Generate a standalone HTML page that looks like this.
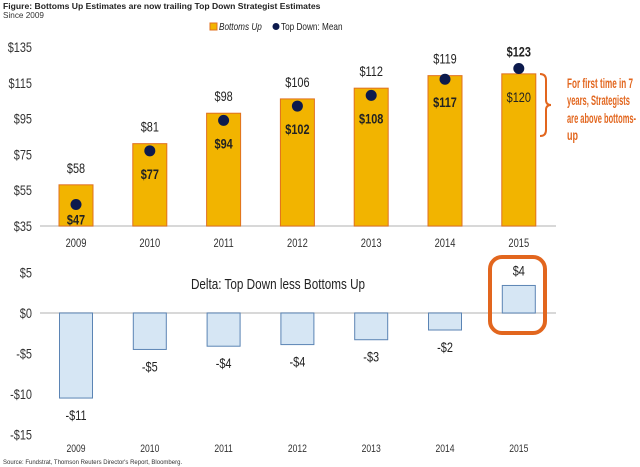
<!DOCTYPE html>
<html><head><meta charset="utf-8"><style>
html,body{margin:0;padding:0;background:#fff;width:640px;height:467px;overflow:hidden}
svg{display:block;font-family:"Liberation Sans",sans-serif}
</style></head><body>
<svg id="c" width="640" height="467" viewBox="0 0 640 467">
<text x="3" y="9" font-weight="bold" font-size="8.6" fill="#222">Figure: Bottoms Up Estimates are now trailing Top Down Strategist Estimates</text>
<text x="3" y="18" font-size="8.2" fill="#333">Since 2009</text>
<g>
<rect x="210" y="23" width="7" height="7" fill="#f2b400" stroke="#e07020" stroke-width="1"/>
<text class="cn" x="219" y="30" font-size="10.5" font-style="italic" fill="#222">Bottoms Up</text>
<circle cx="276" cy="26.5" r="3.5" fill="#0c1a4d"/>
<text class="cn" x="281" y="30" font-size="10.5" fill="#222">Top Down: Mean</text>
</g>
<g id="topg"></g>
<g id="botg"></g>
<text class="cn" x="278" y="289" text-anchor="middle" font-size="15" fill="#222">Delta: Top Down less Bottoms Up</text>
<rect x="490" y="257" width="55" height="76" rx="12" fill="none" stroke="#e2661e" stroke-width="4"/>
<path d="M540,74 q6,0 6,6 v20 q0,5 5,5 q-5,0 -5,5 v20 q0,6 -6,6" fill="none" stroke="#e2661e" stroke-width="2"/>
<g font-size="14" font-weight="bold" fill="#e2661e">
<text x="567" y="88" textLength="66" lengthAdjust="spacingAndGlyphs">For first time in 7</text>
<text x="567" y="105" textLength="63" lengthAdjust="spacingAndGlyphs">years, Strategists</text>
<text x="567" y="123" textLength="69" lengthAdjust="spacingAndGlyphs">are above bottoms-</text>
<text x="567" y="140" textLength="11" lengthAdjust="spacingAndGlyphs">up</text>
</g>
<text x="3" y="464" font-size="6" fill="#333">Source: Fundstrat, Thomson Reuters Director's Report, Bloomberg.</text>
</svg>
<script>
const years=["2009","2010","2011","2012","2013","2014","2015"];
const bottomsUp=[58,81,98,106,112,119,120];
const topDown=[47,77,94,102,108,117,123];
const topTicks=[35,55,75,95,115,135];
const deltaVals=[-10.5,-4.5,-4.1,-3.9,-3.3,-2.1,3.4];
const deltaLabels=["-$11","-$5","-$4","-$4","-$3","-$2","$4"];
const botTicks=[5,0,-5,-10,-15];
const NS="http://www.w3.org/2000/svg";
function mk(p,t,a,txt){const e=document.createElementNS(NS,t);for(const k in a)e.setAttribute(k,a[k]);if(txt!==undefined){e.textContent=txt;e.setAttribute('class','cn');}p.appendChild(e);return e;}
const xc=i=>76+i*73.8;
const yT=v=>226-(v-35)*1.79;
const yB=v=>313-v*8.1;
const gT=document.getElementById('topg'),gB=document.getElementById('botg');
topTicks.forEach(t=>{const e=mk(gT,'text',{x:32,y:yT(t)+5,'text-anchor':'end','font-size':14,fill:'#333'},'$'+t);

});
const ax=mk(gT,'line',{x1:40,x2:556,y1:226,y2:226,stroke:'#ccc','stroke-width':1.5});


years.forEach((y,i)=>{
const x=xc(i),w=34,v=bottomsUp[i];
const b=mk(gT,'rect',{x:x-w/2,y:yT(v),width:w,height:226-yT(v),fill:'#f2b400',stroke:'#e07020','stroke-width':1});


const hi=Math.max(v,topDown[i]),lo=Math.min(v,topDown[i]);
const t=mk(gT,'text',{x:x,y:yT(hi)-12,'text-anchor':'middle','font-size':14,fill:'#222','font-weight':i===6?'bold':'normal'},'$'+hi);


const l=mk(gT,'text',{x:x,y:yT(lo)+(i===0?20:28),'text-anchor':'middle','font-size':14,'font-weight':i===6?'normal':'bold',fill:'#222'},'$'+lo);


const d=mk(gT,'circle',{cx:x,cy:yT(topDown[i]),r:5.5,fill:'#0c1a4d'});


const yr=mk(gT,'text',{x:x,y:247,'text-anchor':'middle','font-size':12,fill:'#333'},y);


});
botTicks.forEach(t=>{const e=mk(gB,'text',{x:32,y:yB(t)+5,'text-anchor':'end','font-size':14,fill:'#333'},(t<0?'-$'+(-t):'$'+t));

});
const z=mk(gB,'line',{x1:40,x2:556,y1:313,y2:313,stroke:'#ccc','stroke-width':1.5});


years.forEach((y,i)=>{
const x=xc(i),w=33,v=deltaVals[i];
const y0=Math.min(yB(v),yB(0)),h=Math.abs(yB(v)-yB(0));
const b=mk(gB,'rect',{x:x-w/2,y:y0,width:w,height:h,fill:'#d6e6f4',stroke:'#5b84b4','stroke-width':1});


const ly=v<0?yB(v)+22:yB(v)-10;
const t=mk(gB,'text',{x:x,y:ly,'text-anchor':'middle','font-size':14,fill:'#222'},deltaLabels[i]);


const yr=mk(gB,'text',{x:x,y:452,'text-anchor':'middle','font-size':11,fill:'#333'},y);


});
document.querySelectorAll('text.cn').forEach(e=>{
try{const L=e.getComputedTextLength();
e.setAttribute('textLength',(L*0.78).toFixed(1));
e.setAttribute('lengthAdjust','spacingAndGlyphs');}catch(err){}
});
</script>
</body></html>
